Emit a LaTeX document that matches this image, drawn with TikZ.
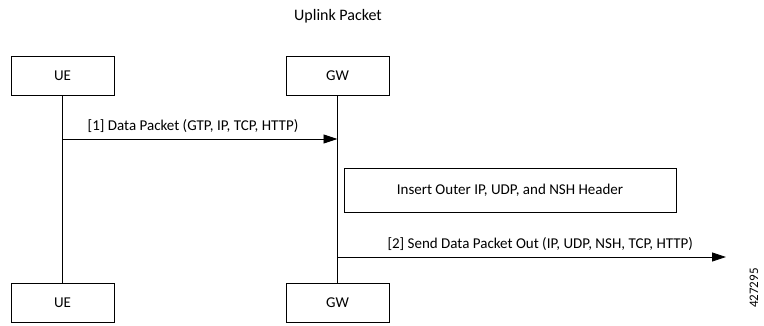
\documentclass[tikz,border=0pt]{standalone}
\usepackage{fontspec}
\setmainfont{Carlito}
\usetikzlibrary{positioning,arrows.meta}

\tikzset{
	entity/.style={draw, line width=0.8pt, minimum width=103pt, minimum height=39pt, inner sep=0pt, font=\fontsize{15}{18}\selectfont},
	action/.style={draw, line width=0.8pt, minimum width=332pt, minimum height=44pt, inner sep=0pt, font=\fontsize{15}{18}\selectfont},
	msg/.style={line width=0.8pt, -{Triangle[length=14pt, width=9pt]}},
	lifeline/.style={line width=0.8pt},
	msglabel/.style={font=\fontsize{15}{18}\selectfont, above=3pt}
}

\begin{document}
\begin{tikzpicture}[x=1pt, y=1pt]
	\useasboundingbox (0,0) rectangle (764,-325);
	\node[font=\fontsize{16}{19}\selectfont] (title) at (338,-16) {Uplink Packet};
	%
	\node[entity] (ue) at (62.5,-75.5) {UE};
	\node[entity] (gw) at (337.5,-75.5) {GW};
	\node[entity] (ueb) at (62.5,-302.5) {UE};
	\node[entity] (gwb) at (337.5,-302.5) {GW};
	\draw[lifeline] (ue) -- (ueb);
	\draw[lifeline] (gw) -- (gwb);
	%
	\coordinate (m1s) at (ue.south |- 0,-139);
	\coordinate (m1e) at (gw.south |- 0,-139);
	\draw[msg] (m1s) -- node[msglabel, xshift=-7pt]{[1] Data Packet (GTP, IP, TCP, HTTP)} (m1e);
	%
	\node[action] (insert) at (510,-190) {Insert Outer IP, UDP, and NSH Header};
	%
	\coordinate (m2s) at (gw.south |- 0,-257);
	\coordinate (m2e) at (726,-257);
	\draw[msg] (m2s) -- node[msglabel, xshift=8.5pt]{[2] Send Data Packet Out (IP, UDP, NSH, TCP, HTTP)} (m2e);
	%
	\node[rotate=90, font=\fontsize{13}{15}\selectfont] (figid) at (754,-288) {427295};
\end{tikzpicture}
\end{document}
